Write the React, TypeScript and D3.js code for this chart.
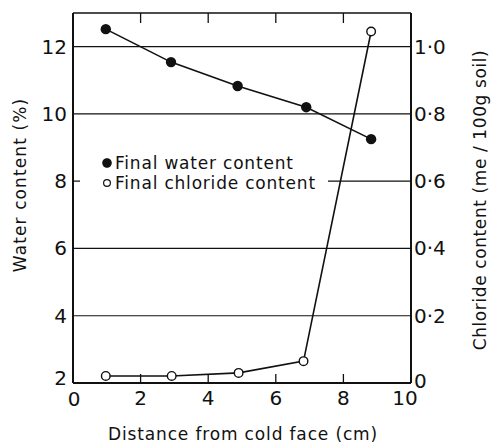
import React from "react";
import * as d3 from "d3";

// Distance from cold face (cm)
const waterX = [0.97, 2.9, 4.87, 6.9, 8.82];
// Final water content (%)
const waterY = [12.52, 11.54, 10.83, 10.2, 9.25];

const chlorideX = [0.97, 2.92, 4.9, 6.82, 8.82];
// Final chloride content (me / 100g soil)
const chlorideY = [0.021, 0.021, 0.03, 0.065, 1.045];

const xTicks = [0, 2, 4, 6, 8, 10];
const leftTicks = [2, 4, 6, 8, 10, 12];
const rightTicks = [0, 0.2, 0.4, 0.6, 0.8, 1.0];
const rightTickLabels = ["0", "0·2", "0·4", "0·6", "0·8", "1·0"];

const legendItems = ["Final water content", "Final chloride content"];

const W = 493;
const H = 445;
const FONT = "'DejaVu Sans', 'Open Sans', sans-serif";
const INK = "#111";

export default function App() {
  const x = d3.scaleLinear().domain([0, 10]).range([73, 411]);
  const yL = d3.scaleLinear().domain([2, 13]).range([383, 13]);
  const yR = d3.scaleLinear().domain([0, 1.1]).range([383, 13]);

  const [x0, x1] = x.range();
  const [y0, y1] = yL.range();

  const line = d3
    .line<[number, number]>()
    .x((d) => d[0])
    .y((d) => d[1]);

  const waterPts: [number, number][] = waterX.map((v, i) => [x(v), yL(waterY[i])]);
  const chloridePts: [number, number][] = chlorideX.map((v, i) => [x(v), yR(chlorideY[i])]);

  return (
    <svg
      width={W}
      height={H}
      style={{ position: "absolute", left: 0, top: 0, background: "#fff" }}
      fontFamily={FONT}
    >
      {/* horizontal gridlines */}
      {leftTicks
        .filter((t) => t > 2)
        .map((t) => (
          <line key={t} x1={x0} x2={x1} y1={yL(t)} y2={yL(t)} stroke={INK} strokeWidth={1.2} />
        ))}

      {/* inward ticks on top and bottom frames */}
      {xTicks
        .filter((t) => t > 0 && t < 10)
        .map((t) => (
          <g key={t}>
            <line x1={x(t)} x2={x(t)} y1={y1} y2={y1 + 10} stroke={INK} strokeWidth={1.3} />
            <line x1={x(t)} x2={x(t)} y1={y0} y2={y0 - 9} stroke={INK} strokeWidth={1.3} />
          </g>
        ))}

      {/* legend, masking the gridline behind it */}
      <rect x={80} y={151} width={248} height={42} fill="#fff" />
      {legendItems.map((label, i) => {
        const cy = 163 + i * 20;
        return (
          <g key={label}>
            <circle
              cx={107}
              cy={cy}
              r={i === 0 ? 4.2 : 3.4}
              fill={i === 0 ? INK : "#fff"}
              stroke={INK}
              strokeWidth={1.2}
            />
            <text x={115} y={cy + 6} fontSize={17} letterSpacing={0.8} fill={INK}>
              {label}
            </text>
          </g>
        );
      })}

      {/* frame */}
      <line x1={x0} x2={x1} y1={y1} y2={y1} stroke={INK} strokeWidth={1.6} />
      <line x1={x0} x2={x0} y1={y1} y2={y0} stroke={INK} strokeWidth={2} />
      <line x1={x1} x2={x1} y1={y1} y2={y0} stroke={INK} strokeWidth={2} />
      <line x1={x0} x2={x1} y1={y0} y2={y0} stroke={INK} strokeWidth={2.2} />

      {/* series */}
      <path d={line(waterPts) ?? ""} fill="none" stroke={INK} strokeWidth={1.6} />
      <path d={line(chloridePts) ?? ""} fill="none" stroke={INK} strokeWidth={1.6} />
      {waterPts.map(([cx, cy], i) => (
        <circle key={"w" + i} cx={cx} cy={cy} r={5.2} fill={INK} />
      ))}
      {chloridePts.map(([cx, cy], i) => (
        <circle key={"c" + i} cx={cx} cy={cy} r={4.3} fill="#fff" stroke={INK} strokeWidth={1.4} />
      ))}

      {/* left axis labels */}
      {leftTicks.map((t) => (
        <text
          key={t}
          x={x0 - 6}
          y={t === 2 ? yL(t) - 5 : yL(t)}
          textAnchor="end"
          dominantBaseline="central"
          fontSize={20}
          fill={INK}
        >
          {t}
        </text>
      ))}

      {/* right axis labels */}
      {rightTicks.map((t, i) => (
        <text
          key={t}
          x={x1 + 3}
          y={t === 0 ? yR(t) - 2 : yR(t)}
          dominantBaseline="central"
          fontSize={20}
          fill={INK}
        >
          {rightTickLabels[i]}
        </text>
      ))}

      {/* bottom axis labels */}
      {xTicks.map((t) => (
        <text
          key={t}
          x={t === 10 ? x(t) - 6 : x(t) + (t === 0 ? 1 : 0)}
          y={t === 0 ? 406 : 405}
          textAnchor="middle"
          fontSize={20}
          fill={INK}
        >
          {t}
        </text>
      ))}

      {/* axis titles */}
      <text x={243} y={440} textAnchor="middle" fontSize={17} letterSpacing={0.85} fill={INK}>
        Distance from cold face (cm)
      </text>
      <text
        transform={`translate(26, 185) rotate(-90)`}
        textAnchor="middle"
        fontSize={17}
        letterSpacing={1.1}
        fill={INK}
      >
        Water content (%)
      </text>
      <text
        transform={`translate(486, 200) rotate(-90)`}
        textAnchor="middle"
        fontSize={17}
        letterSpacing={0.6}
        fill={INK}
      >
        Chloride content (me / 100g soil)
      </text>
    </svg>
  );
}
